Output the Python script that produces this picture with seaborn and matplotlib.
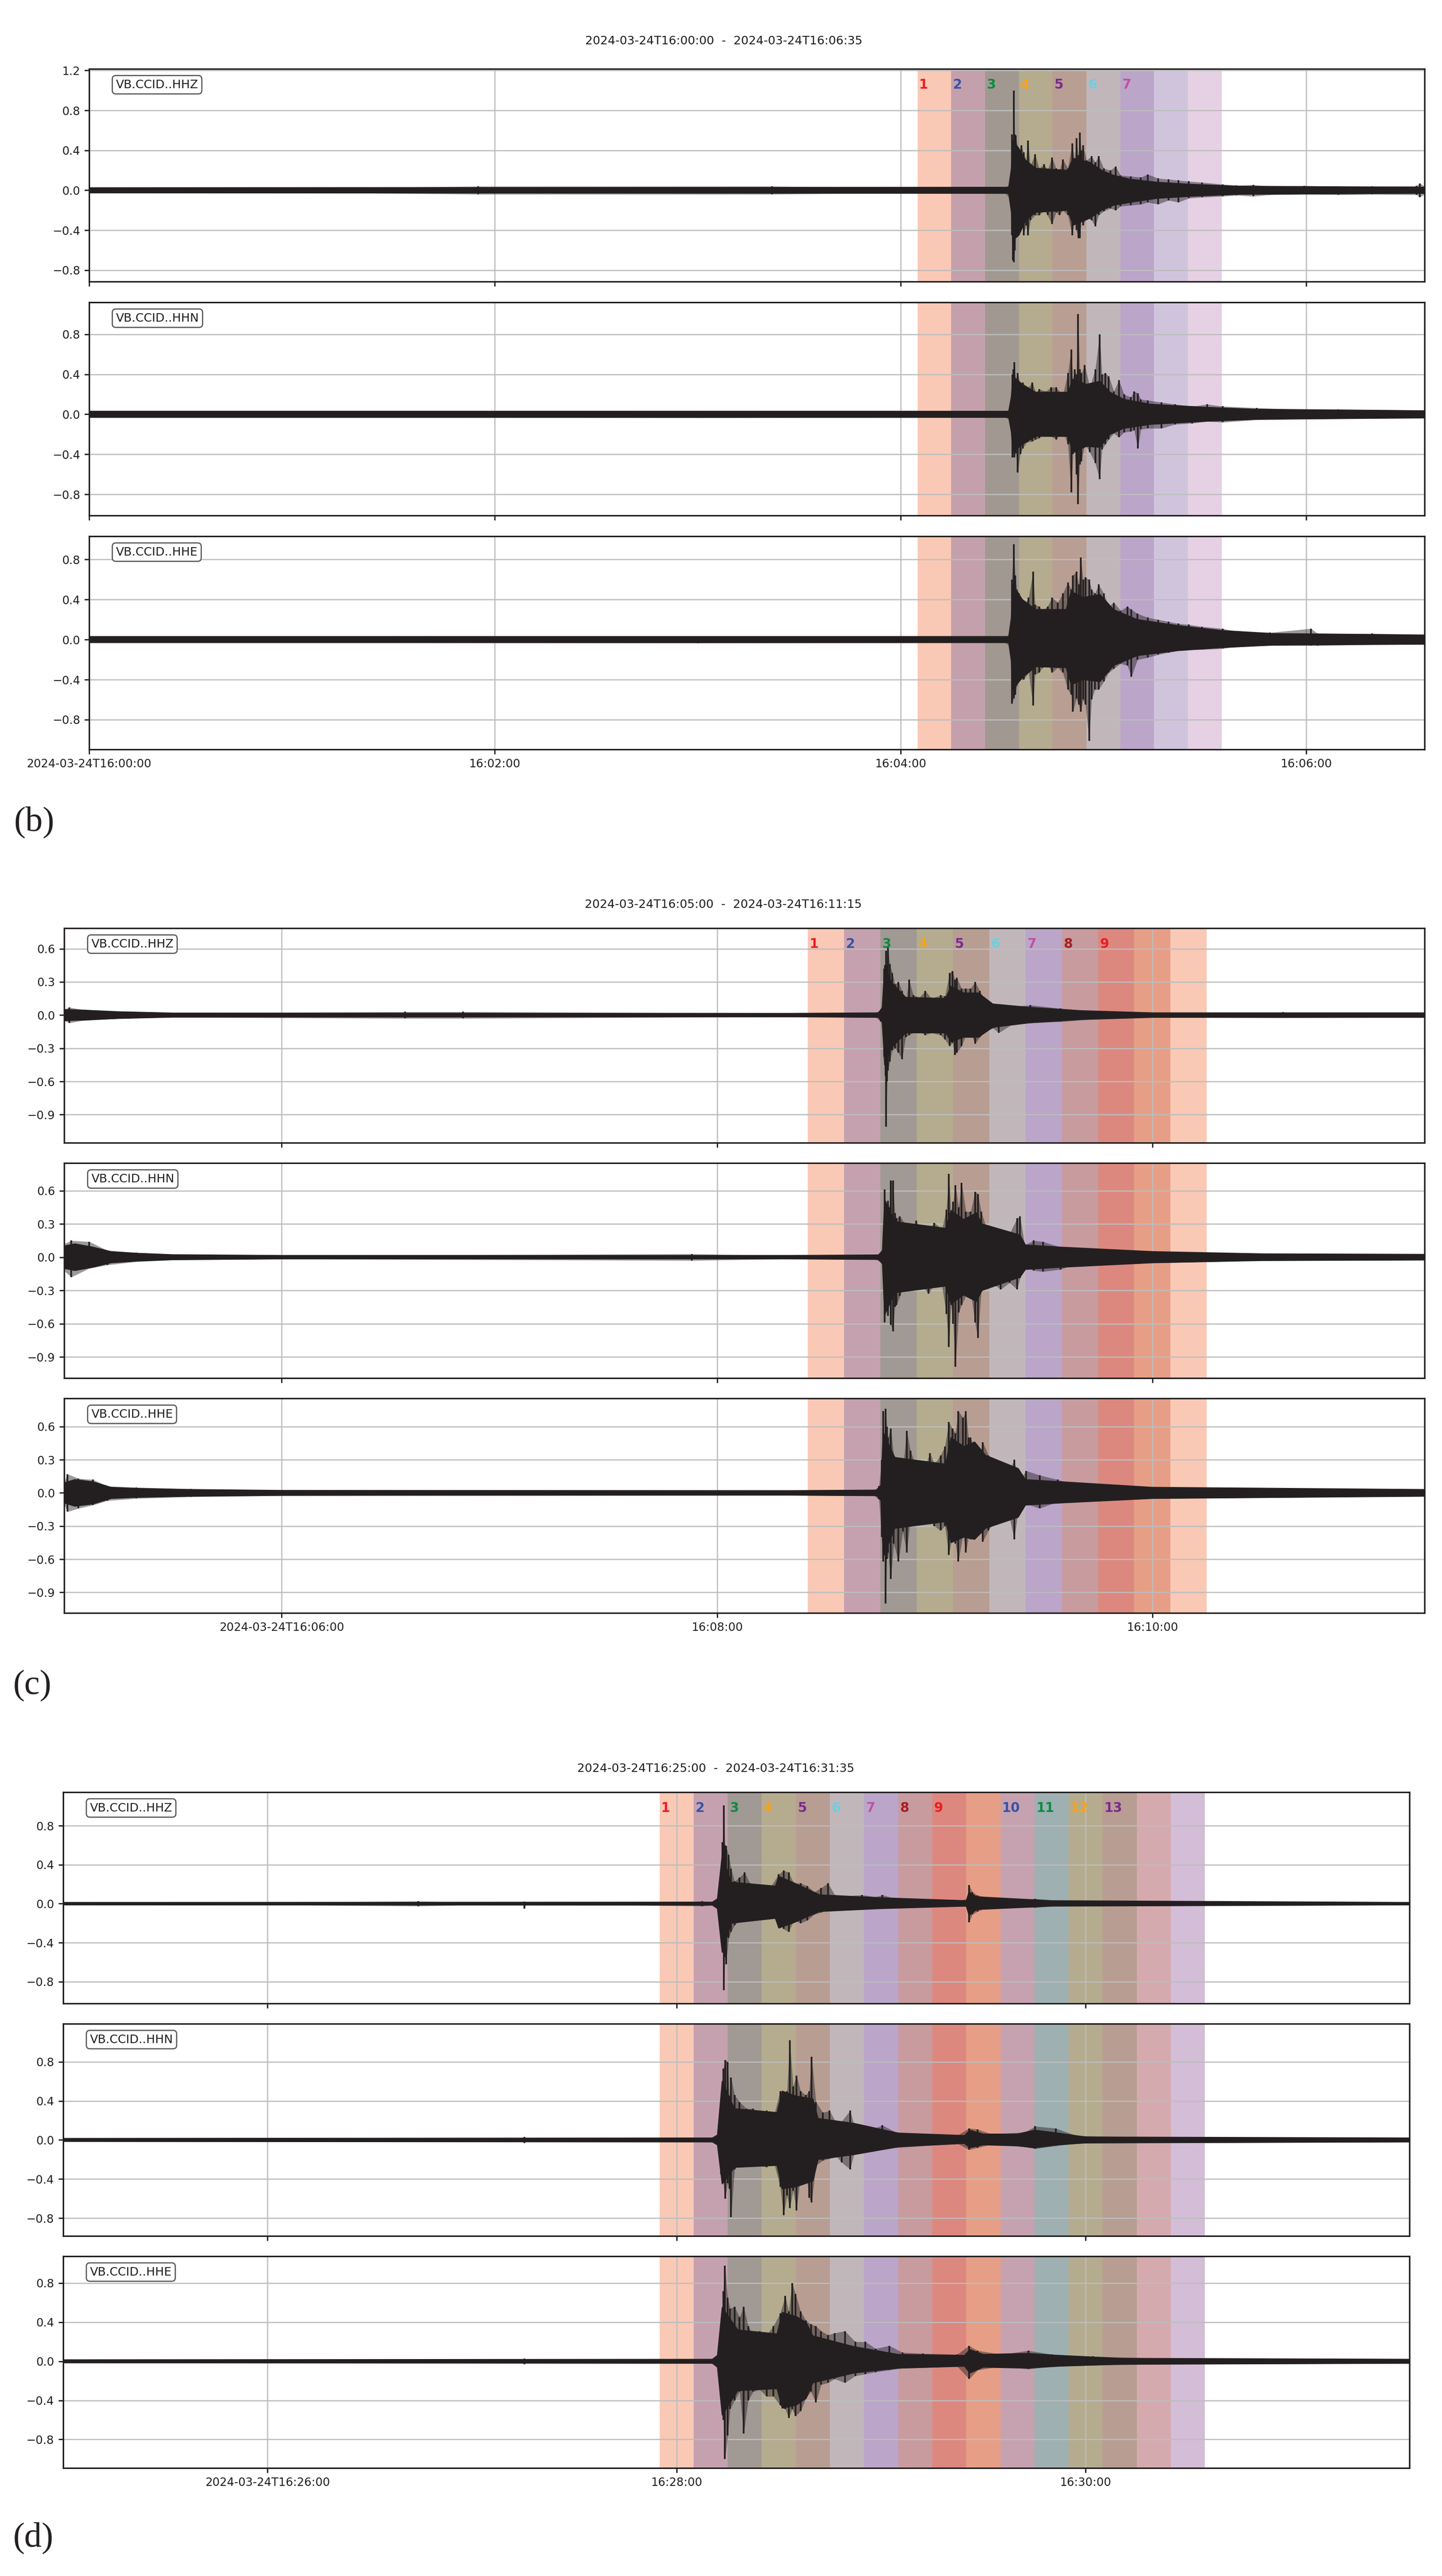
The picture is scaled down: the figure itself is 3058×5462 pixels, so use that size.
import matplotlib
matplotlib.use("Agg")
import matplotlib.pyplot as plt
import seaborn as sns

sns.set_theme(style="ticks")
plt.rcParams["font.family"] = ["DejaVu Sans"]
plt.rcParams["axes.unicode_minus"] = True

TRACE = "#231f20"
GRID = "#bdbdbd"

# Each trace: peak envelope (t, hi, lo), drawn as spikes,
# plus a dense "core" envelope drawn as a filled band. Times are seconds from panel start.

# ---------------- panel (b): 16:00:00 - 16:06:35 ----------------
B_TITLE = "2024-03-24T16:00:00  -  2024-03-24T16:06:35"
B_DUR = 395
B_XTICKS = [0, 120, 240, 360]
B_XLABELS = ["2024-03-24T16:00:00", "16:02:00", "16:04:00", "16:06:00"]
B_YLIM = [(-0.914, 1.216), (-1.011, 1.119), (-1.097, 1.032)]
B_YTICKS = [[-0.8, -0.4, 0.0, 0.4, 0.8, 1.2], [-0.8, -0.4, 0.0, 0.4, 0.8], [-0.8, -0.4, 0.0, 0.4, 0.8]]
B_BAND_START = [245, 255, 265, 275, 285, 295, 305, 315, 325]
B_BAND_COLORS = ["#f9c9b5", "#c4a0ad", "#a19991", "#b5ab8f", "#b89e93", "#c1b7ba", "#bba5c9", "#d0c4dd", "#e6d0e4"]
B_LABELS = ["1", "2", "3", "4", "5", "6", "7"]
B_LABEL_BANDS = [0, 1, 2, 3, 4, 5, 6]

b_z_t = [0, 60, 115, 202, 240, 265, 270.9, 272.4, 272.9, 273.3, 273.5, 273.8, 274.1, 274.9, 275.7, 276.4,
         277.1, 277.7, 278.4, 279.8, 281.0, 282.5, 283.5, 284.8, 286.0, 287.0, 288.0, 289.5, 290.8, 291.5,
         292.0, 292.6, 293.0, 293.5, 294.0, 295.0, 296.5, 297.6, 298.6, 300.1, 302.1, 303.6, 305.1, 308.1,
         311.1, 313.1, 316.2, 319.2, 322.2, 325.2, 329.2, 335.3, 339.3, 344.3, 349.3, 359.4, 369.5, 379.5,
         392.6, 393.6, 395]
b_z_hi = [0.025, 0.02, 0.04, 0.04, 0.025, 0.03, 0.03, 0.06, 0.56, 0.45, 1.00, 0.56, 0.55, 0.35, 0.45, 0.38,
          0.30, 0.50, 0.25, 0.36, 0.22, 0.26, 0.20, 0.33, 0.22, 0.20, 0.31, 0.22, 0.47, 0.30,
          0.52, 0.35, 0.58, 0.40, 0.45, 0.30, 0.34, 0.28, 0.34, 0.22, 0.20, 0.24, 0.15, 0.14,
          0.13, 0.16, 0.12, 0.11, 0.10, 0.09, 0.08, 0.06, 0.05, 0.055, 0.04, 0.045, 0.04, 0.04,
          0.045, 0.07, 0.04]
b_z_lo = [-0.025, -0.02, -0.04, -0.04, -0.025, -0.03, -0.03, -0.08, -0.45, -0.70, -0.72, -0.60, -0.45, -0.45, -0.30, -0.45,
          -0.35, -0.45, -0.30, -0.25, -0.25, -0.20, -0.25, -0.34, -0.22, -0.25, -0.20, -0.25, -0.45, -0.30,
          -0.40, -0.48, -0.48, -0.30, -0.35, -0.27, -0.30, -0.36, -0.25, -0.21, -0.18, -0.20, -0.16, -0.15,
          -0.14, -0.12, -0.14, -0.10, -0.12, -0.08, -0.07, -0.06, -0.05, -0.06, -0.045, -0.04, -0.045, -0.04,
          -0.045, -0.07, -0.04]
b_z_core_t = [0, 272.0, 272.8, 273.2, 275.0, 277.0, 280.0, 289.5, 291.0, 296.0, 299.5, 303.0, 308.0, 316.0, 326.0, 340.0, 395]
b_z_core_hi = [0.025, 0.03, 0.22, 0.50, 0.42, 0.30, 0.22, 0.20, 0.32, 0.28, 0.20, 0.15, 0.11, 0.08, 0.06, 0.04, 0.03]
b_z_core_lo = [-0.025, -0.03, -0.22, -0.50, -0.45, -0.30, -0.22, -0.20, -0.35, -0.28, -0.20, -0.15, -0.12, -0.08, -0.06, -0.04, -0.03]

b_n_t = [0, 90, 180, 265, 270.9, 272.4, 273.1, 273.4, 273.7, 274.1, 274.7, 275.4, 276.1, 277.4,
         279.0, 280.0, 281.0, 283.0, 284.5, 286.0, 288.0, 289.5, 290.5, 291.0,
         291.5, 292.0, 292.5, 293.0, 293.5, 294.5, 296.0, 297.6, 298.9, 299.6,
         300.6, 301.6, 303.1, 304.6, 306.1, 308.1, 309.1, 310.2, 311.1, 313.1,
         317.2, 321.2, 326.2, 330.7, 335.3, 345.3, 359.4, 369.5, 395]
b_n_hi = [0.03, 0.03, 0.035, 0.03, 0.03, 0.05, 0.40, 0.45, 0.52, 0.35, 0.41, 0.30, 0.32, 0.25,
          0.32, 0.22, 0.25, 0.23, 0.27, 0.27, 0.19, 0.41, 0.65, 0.35,
          0.45, 0.40, 1.00, 0.45, 0.41, 0.49, 0.27, 0.45, 0.80, 0.40,
          0.41, 0.38, 0.23, 0.34, 0.20, 0.17, 0.23, 0.21, 0.15, 0.14,
          0.12, 0.10, 0.08, 0.10, 0.08, 0.065, 0.045, 0.05, 0.04]
b_n_lo = [-0.03, -0.03, -0.035, -0.03, -0.03, -0.06, -0.43, -0.35, -0.43, -0.39, -0.58, -0.40, -0.34, -0.28,
          -0.27, -0.25, -0.24, -0.17, -0.22, -0.25, -0.17, -0.30, -0.78, -0.40,
          -0.38, -0.60, -0.90, -0.50, -0.47, -0.30, -0.38, -0.49, -0.65, -0.35,
          -0.30, -0.25, -0.19, -0.23, -0.18, -0.17, -0.16, -0.34, -0.15, -0.14,
          -0.14, -0.10, -0.09, -0.07, -0.08, -0.055, -0.045, -0.04, -0.04]
b_n_core_t = [0, 272.0, 272.8, 273.2, 276.0, 280.0, 289.5, 291.0, 295.0, 299.0, 302.0, 306.0, 314.0, 330.0, 345.0, 395]
b_n_core_hi = [0.03, 0.03, 0.18, 0.38, 0.30, 0.22, 0.22, 0.35, 0.30, 0.33, 0.22, 0.15, 0.10, 0.07, 0.05, 0.035]
b_n_core_lo = [-0.03, -0.03, -0.18, -0.38, -0.30, -0.22, -0.22, -0.38, -0.32, -0.33, -0.20, -0.14, -0.10, -0.07, -0.05, -0.035]

b_e_t = [0, 90, 180, 265, 270.9, 272.4, 272.9, 273.5, 273.9, 274.4, 275.1, 276.4, 277.9, 279.2,
         279.8, 281.0, 282.0, 283.5, 284.8, 286.5, 288.0, 289.5, 290.5, 291.0,
         292.0, 292.7, 293.3, 294.0, 294.7, 295.8, 296.5, 297.5, 298.6, 300.1,
         301.6, 303.1, 305.1, 307.1, 308.3, 310.1, 313.1, 316.2, 319.2, 322.2,
         325.2, 329.2, 335.3, 339.3, 349.3, 361.4, 363.4, 379.5, 395]
b_e_hi = [0.03, 0.03, 0.035, 0.03, 0.03, 0.05, 0.60, 0.95, 0.64, 0.50, 0.46, 0.33, 0.42, 0.68,
          0.35, 0.33, 0.29, 0.33, 0.42, 0.37, 0.46, 0.57, 0.50, 0.64,
          0.68, 0.55, 0.82, 0.60, 0.62, 0.60, 0.50, 0.46, 0.55, 0.46,
          0.33, 0.37, 0.29, 0.33, 0.30, 0.26, 0.22, 0.20, 0.18, 0.16,
          0.15, 0.13, 0.11, 0.08, 0.07, 0.11, 0.06, 0.06, 0.05]
b_e_lo = [-0.03, -0.03, -0.035, -0.03, -0.03, -0.07, -0.64, -0.59, -0.55, -0.46, -0.40, -0.40, -0.33, -0.66,
          -0.35, -0.33, -0.28, -0.24, -0.33, -0.28, -0.33, -0.50, -0.55, -0.72,
          -0.59, -0.65, -0.72, -0.60, -0.65, -1.01, -0.60, -0.50, -0.50, -0.42,
          -0.33, -0.29, -0.24, -0.26, -0.37, -0.20, -0.18, -0.15, -0.13, -0.11,
          -0.10, -0.10, -0.09, -0.07, -0.06, -0.06, -0.06, -0.05, -0.05]
b_e_core_t = [0, 272.0, 272.8, 273.2, 276.0, 280.0, 289.0, 290.5, 294.0, 299.0, 303.0, 310.0, 322.0, 335.0, 350.0, 395]
b_e_core_hi = [0.03, 0.03, 0.22, 0.55, 0.40, 0.30, 0.30, 0.48, 0.42, 0.45, 0.30, 0.20, 0.14, 0.09, 0.06, 0.045]
b_e_core_lo = [-0.03, -0.03, -0.22, -0.50, -0.38, -0.27, -0.28, -0.45, -0.40, -0.42, -0.26, -0.16, -0.11, -0.08, -0.055, -0.045]

# ---------------- panel (c): 16:05:00 - 16:11:15 ----------------
C_TITLE = "2024-03-24T16:05:00  -  2024-03-24T16:11:15"
C_DUR = 375
C_XTICKS = [60, 180, 300]
C_XLABELS = ["2024-03-24T16:06:00", "16:08:00", "16:10:00"]
C_YLIM = [(-1.154, 0.786), (-1.09, 0.849), (-1.086, 0.855)]
C_YTICKS = [[-0.9, -0.6, -0.3, 0.0, 0.3, 0.6]] * 3
C_BAND_START = [205, 215, 225, 235, 245, 255, 265, 275, 285, 295, 305]
C_BAND_COLORS = ["#f9c9b5", "#c5a1b0", "#a19993", "#b5ab8f", "#b89d93", "#c1b7ba", "#bba5c9", "#c89b9f",
                 "#dc887f", "#e69f86", "#f9c9b5"]
C_LABELS = ["1", "2", "3", "4", "5", "6", "7", "8", "9"]
C_LABEL_BANDS = [0, 1, 2, 3, 4, 5, 6, 7, 8]

c_z_t = [0, 1.5, 5, 15, 30, 94, 110, 200, 223.7, 225.2, 226.0, 226.4, 226.6, 226.9, 227.1, 227.6, 228.3, 229.1,
         230.0, 231.0, 232.0, 232.9, 234.1, 235.8, 237.4, 239.1, 241.6, 242.8,
         244.1, 244.9, 245.5, 246.1, 247.4, 248.6, 249.9, 251.1, 252.4, 254.0,
         256.1, 257.7, 261.5, 266.4, 274.7, 282.2, 286.3, 300, 336, 375]
c_z_hi = [0.05, 0.07, 0.05, 0.03, 0.02, 0.03, 0.03, 0.015, 0.02, 0.05, 0.42, 0.30, 0.58, 0.45, 0.62, 0.46, 0.38, 0.28,
          0.30, 0.22, 0.12, 0.32, 0.18, 0.16, 0.22, 0.15, 0.18, 0.17,
          0.38, 0.40, 0.32, 0.34, 0.24, 0.24, 0.24, 0.30, 0.22, 0.12,
          0.10, 0.10, 0.08, 0.09, 0.06, 0.04, 0.03, 0.02, 0.025, 0.02]
c_z_lo = [-0.05, -0.07, -0.05, -0.03, -0.02, -0.03, -0.03, -0.015, -0.02, -0.06, -0.38, -0.55, -1.01, -0.60, -0.50, -0.42, -0.32, -0.30,
          -0.34, -0.40, -0.20, -0.18, -0.16, -0.15, -0.18, -0.16, -0.18, -0.22,
          -0.28, -0.25, -0.36, -0.34, -0.28, -0.18, -0.16, -0.26, -0.20, -0.14,
          -0.12, -0.16, -0.08, -0.07, -0.06, -0.04, -0.03, -0.02, -0.025, -0.02]
c_z_core_t = [0, 5, 15, 30, 200, 224.5, 225.6, 226.2, 228.0, 232.0, 243.0, 244.5, 248.0, 252.0, 256.0, 266.0, 280.0, 300.0, 375]
c_z_core_hi = [0.05, 0.045, 0.03, 0.018, 0.015, 0.02, 0.07, 0.45, 0.30, 0.16, 0.15, 0.26, 0.20, 0.20, 0.10, 0.07, 0.04, 0.02, 0.02]
c_z_core_lo = [-0.05, -0.045, -0.03, -0.018, -0.015, -0.02, -0.07, -0.45, -0.30, -0.16, -0.16, -0.24, -0.20, -0.20, -0.11, -0.07, -0.04, -0.02, -0.02]

c_n_t = [0, 2, 7, 12, 20, 30, 60, 173, 200,
         223.7, 225.4, 226.0, 226.2, 226.6, 227.1, 227.5, 227.9, 228.5, 229.0,
         229.5, 230.4, 231.6, 233.3, 234.9, 236.2, 238.3, 239.9, 242.0, 243.2,
         243.9, 244.5, 245.1, 245.7, 246.6, 247.4, 248.6, 249.9, 251.1, 251.9,
         252.8, 254.0, 255.7, 258.2, 260.6, 262.7, 263.5, 264.8, 267.3, 269.8,
         274.7, 278.1, 282.2, 294.6, 302.9, 315.4, 323.7, 375]
c_n_hi = [0.12, 0.15, 0.14, 0.06, 0.04, 0.025, 0.015, 0.03, 0.015,
          0.02, 0.04, 0.30, 0.61, 0.40, 0.51, 0.45, 0.69, 0.69, 0.40,
          0.35, 0.37, 0.31, 0.25, 0.33, 0.21, 0.25, 0.31, 0.25, 0.43,
          0.75, 0.41, 0.50, 0.65, 0.45, 0.67, 0.41, 0.41, 0.59, 0.57,
          0.41, 0.29, 0.25, 0.21, 0.21, 0.35, 0.37, 0.11, 0.15, 0.14,
          0.09, 0.08, 0.07, 0.05, 0.05, 0.04, 0.03, 0.025]
c_n_lo = [-0.12, -0.18, -0.10, -0.07, -0.04, -0.025, -0.015, -0.03, -0.015,
          -0.02, -0.05, -0.30, -0.59, -0.45, -0.53, -0.40, -0.61, -0.67, -0.45,
          -0.43, -0.35, -0.25, -0.27, -0.24, -0.24, -0.33, -0.24, -0.26, -0.51,
          -0.81, -0.43, -0.60, -0.99, -0.50, -0.43, -0.35, -0.31, -0.59, -0.73,
          -0.31, -0.27, -0.23, -0.29, -0.23, -0.29, -0.19, -0.09, -0.12, -0.13,
          -0.11, -0.07, -0.07, -0.05, -0.05, -0.04, -0.03, -0.025]
c_n_core_t = [0, 3, 8, 13, 20, 30, 60, 200, 224.5, 225.6, 226.2, 229.0, 243.0, 244.5, 248.0, 251.5, 253.0, 263.5, 265.0, 275.0, 300.0, 330.0, 375]
c_n_core_hi = [0.10, 0.12, 0.09, 0.05, 0.035, 0.022, 0.015, 0.015, 0.02, 0.06, 0.52, 0.32, 0.26, 0.42, 0.34, 0.40, 0.30, 0.20, 0.11, 0.09, 0.05, 0.03, 0.025]
c_n_core_lo = [-0.10, -0.12, -0.09, -0.05, -0.035, -0.022, -0.015, -0.015, -0.02, -0.06, -0.52, -0.32, -0.26, -0.42, -0.34, -0.40, -0.30, -0.18, -0.11, -0.09, -0.05, -0.03, -0.025]

c_e_t = [0, 1, 4, 8, 12, 20, 35, 60, 100, 190,
         223.3, 224.6, 225.4, 225.8, 226.2, 226.5, 226.8, 227.1, 227.9, 228.7,
         230.0, 231.2, 232.3, 233.3, 234.9, 236.6, 238.7, 239.9, 241.6, 242.8,
         243.9, 244.9, 245.7, 246.5, 247.8, 248.6, 249.3, 249.9, 251.1, 252.4,
         253.2, 254.8, 256.5, 258.2, 260.6, 261.9, 263.1, 265.2, 268.9, 273.9,
         278.1, 286.3, 294.6, 315.4, 375]
c_e_hi = [0.10, 0.17, 0.13, 0.12, 0.06, 0.05, 0.035, 0.025, 0.02, 0.02,
          0.025, 0.06, 0.30, 0.74, 0.40, 0.76, 0.60, 0.50, 0.58, 0.34,
          0.30, 0.22, 0.56, 0.38, 0.24, 0.18, 0.36, 0.26, 0.34, 0.42,
          0.64, 0.58, 0.54, 0.74, 0.68, 0.74, 0.50, 0.50, 0.38, 0.34,
          0.46, 0.34, 0.22, 0.18, 0.20, 0.30, 0.10, 0.20, 0.16, 0.12,
          0.08, 0.07, 0.055, 0.04, 0.03]
c_e_lo = [-0.10, -0.17, -0.14, -0.11, -0.07, -0.05, -0.035, -0.025, -0.02, -0.02,
          -0.025, -0.06, -0.40, -0.62, -0.50, -1.00, -0.60, -0.54, -0.78, -0.46,
          -0.62, -0.35, -0.54, -0.22, -0.26, -0.18, -0.18, -0.30, -0.34, -0.30,
          -0.56, -0.38, -0.46, -0.62, -0.38, -0.54, -0.40, -0.42, -0.34, -0.26,
          -0.44, -0.34, -0.26, -0.18, -0.22, -0.42, -0.14, -0.10, -0.14, -0.08,
          -0.06, -0.06, -0.05, -0.04, -0.03]
c_e_core_t = [0, 3, 8, 13, 20, 35, 60, 200, 224.0, 225.2, 225.8, 229.0, 243.0, 244.5, 248.0, 251.0, 254.0, 263.0, 265.0, 275.0, 300.0, 375]
c_e_core_hi = [0.09, 0.12, 0.10, 0.05, 0.04, 0.03, 0.022, 0.02, 0.025, 0.07, 0.55, 0.32, 0.26, 0.50, 0.42, 0.46, 0.34, 0.22, 0.12, 0.10, 0.05, 0.03]
c_e_core_lo = [-0.09, -0.12, -0.10, -0.05, -0.04, -0.03, -0.022, -0.02, -0.025, -0.07, -0.58, -0.32, -0.26, -0.45, -0.40, -0.42, -0.32, -0.22, -0.11, -0.09, -0.05, -0.03]

# ---------------- panel (d): 16:25:00 - 16:31:35 ----------------
D_TITLE = "2024-03-24T16:25:00  -  2024-03-24T16:31:35"
D_DUR = 395
D_XTICKS = [60, 180, 300]
D_XLABELS = ["2024-03-24T16:26:00", "16:28:00", "16:30:00"]
D_YLIM = [(-1.024, 1.144), (-0.983, 1.19), (-1.092, 1.075)]
D_YTICKS = [[-0.8, -0.4, 0.0, 0.4, 0.8]] * 3
D_BAND_START = [175, 185, 195, 205, 215, 225, 235, 245, 255, 265, 275, 285, 295, 305, 315, 325]
D_BAND_COLORS = ["#f9c9b5", "#c5a1b0", "#a19993", "#b5ab8f", "#b89d93", "#c1b7ba", "#bba5c9", "#c89b9f",
                 "#dc887f", "#e69f86", "#c6a2b0", "#9eb0b2", "#b5ab8f", "#b89d93", "#d5aaae", "#d3bdd7"]
D_LABELS = ["1", "2", "3", "4", "5", "6", "7", "8", "9", "10", "11", "12", "13"]
D_LABEL_BANDS = [0, 1, 2, 3, 4, 5, 6, 7, 8, 10, 11, 12, 13]

d_z_t = [0, 60, 104.3, 120, 135.0, 135.4, 135.8, 160, 187.5,
         190.5, 192.0, 193.0, 193.5, 193.9, 194.2, 194.5, 195.3, 196.0, 197.0,
         198.5, 200.0, 201.5, 203.5, 205.4, 207.4, 209.9, 211.4, 212.9, 214.4,
         216.4, 218.4, 220.4, 222.4, 224.4, 226.4, 230.4, 234.4, 238.4, 240.4,
         244.3, 252.3, 262.3, 265.3, 265.8, 266.8, 268.3, 270.3, 275.3, 285.2,
         292.2, 395]
d_z_hi = [0.012, 0.012, 0.025, 0.012, 0.012, 0.02, 0.012, 0.012, 0.025,
          0.015, 0.04, 0.21, 0.63, 1.01, 0.60, 0.59, 0.50, 0.36, 0.23,
          0.27, 0.32, 0.21, 0.16, 0.16, 0.16, 0.30, 0.34, 0.32, 0.21,
          0.21, 0.18, 0.12, 0.16, 0.21, 0.09, 0.08, 0.09, 0.07, 0.09,
          0.05, 0.05, 0.03, 0.05, 0.19, 0.12, 0.085, 0.07, 0.04, 0.05,
          0.03, 0.015]
d_z_lo = [-0.012, -0.012, -0.025, -0.012, -0.012, -0.05, -0.012, -0.012, -0.025,
          -0.015, -0.05, -0.17, -0.40, -0.89, -0.55, -0.62, -0.35, -0.29, -0.22,
          -0.17, -0.15, -0.13, -0.11, -0.15, -0.11, -0.17, -0.26, -0.29, -0.17,
          -0.20, -0.17, -0.11, -0.09, -0.06, -0.06, -0.05, -0.05, -0.05, -0.04,
          -0.03, -0.03, -0.02, -0.02, -0.19, -0.11, -0.08, -0.05, -0.03, -0.04,
          -0.02, -0.015]
d_z_core_t = [0, 190.5, 192.0, 193.4, 196.0, 209.0, 210.0, 214.0, 222.0, 240.0, 265.0, 265.8, 268.0, 290.0, 395]
d_z_core_hi = [0.012, 0.015, 0.05, 0.50, 0.22, 0.18, 0.28, 0.22, 0.09, 0.06, 0.03, 0.12, 0.07, 0.03, 0.012]
d_z_core_lo = [-0.012, -0.015, -0.05, -0.50, -0.20, -0.15, -0.25, -0.20, -0.08, -0.05, -0.025, -0.12, -0.06, -0.025, -0.012]

d_n_t = [0, 60, 120, 135.0, 135.4, 135.8, 160,
         190.5, 192.0, 193.0, 193.7, 194.3, 195.0, 195.5, 196.0, 197.0, 198.5,
         200.5, 202.5, 204.4, 206.4, 208.4, 210.4, 211.4, 212.4, 213.2, 214.2,
         215.2, 216.4, 217.9, 218.9, 219.6, 220.9, 222.9, 224.9, 226.9, 228.4,
         230.9, 232.4, 236.4, 240.4, 244.3, 252.3, 262.3, 265.8, 268.3, 272.3,
         282.2, 285.2, 291.2, 297.2, 312.2, 395]
d_n_hi = [0.015, 0.015, 0.015, 0.015, 0.03, 0.015, 0.015,
          0.02, 0.04, 0.30, 0.73, 0.82, 0.80, 0.45, 0.64, 0.46, 0.39,
          0.32, 0.32, 0.26, 0.30, 0.23, 0.50, 0.46, 0.50, 1.02, 0.55,
          0.66, 0.50, 0.46, 0.50, 0.85, 0.39, 0.28, 0.30, 0.17, 0.19,
          0.30, 0.12, 0.10, 0.15, 0.08, 0.06, 0.045, 0.12, 0.11, 0.06,
          0.08, 0.14, 0.12, 0.045, 0.03, 0.02]
d_n_lo = [-0.015, -0.015, -0.015, -0.015, -0.03, -0.015, -0.015,
          -0.02, -0.05, -0.35, -0.44, -0.60, -0.44, -0.50, -0.79, -0.30, -0.23,
          -0.26, -0.23, -0.26, -0.28, -0.21, -0.48, -0.77, -0.57, -0.70, -0.52,
          -0.72, -0.35, -0.30, -0.59, -0.64, -0.26, -0.21, -0.19, -0.17, -0.23,
          -0.30, -0.10, -0.10, -0.10, -0.08, -0.06, -0.035, -0.10, -0.08, -0.045,
          -0.07, -0.09, -0.06, -0.035, -0.03, -0.02]
d_n_core_t = [0, 190.5, 192.0, 193.4, 197.0, 209.5, 211.0, 215.0, 220.0, 221.5, 232.0, 245.0, 264.5, 266.0, 270.0, 280.0, 285.0, 292.0, 300.0, 395]
d_n_core_hi = [0.015, 0.02, 0.05, 0.60, 0.32, 0.28, 0.50, 0.45, 0.42, 0.22, 0.17, 0.07, 0.045, 0.10, 0.06, 0.06, 0.10, 0.07, 0.03, 0.02]
d_n_core_lo = [-0.015, -0.02, -0.05, -0.45, -0.28, -0.26, -0.50, -0.48, -0.42, -0.20, -0.15, -0.07, -0.035, -0.08, -0.05, -0.06, -0.08, -0.05, -0.03, -0.02]

d_e_t = [0, 60, 120, 135.0, 135.4, 135.8, 160,
         190.5, 192.0, 193.0, 193.7, 194.2, 195.0, 195.7, 197.0, 198.5, 199.7,
         201.0, 202.5, 204.4, 206.4, 208.4, 210.4, 211.9, 212.9, 213.9, 214.9,
         216.4, 217.9, 219.4, 220.9, 222.4, 224.4, 226.4, 229.4, 232.4, 235.4,
         238.4, 242.4, 246.3, 252.3, 262.3, 265.8, 268.3, 275.3, 283.2, 290.2,
         302.2, 322.1, 395]
d_e_hi = [0.015, 0.015, 0.015, 0.015, 0.03, 0.015, 0.015,
          0.02, 0.05, 0.27, 0.72, 0.98, 0.65, 0.54, 0.56, 0.45, 0.56,
          0.36, 0.27, 0.31, 0.27, 0.36, 0.49, 0.67, 0.51, 0.80, 0.69,
          0.51, 0.42, 0.38, 0.36, 0.31, 0.27, 0.29, 0.31, 0.20, 0.20,
          0.13, 0.16, 0.09, 0.08, 0.07, 0.16, 0.11, 0.07, 0.11, 0.07,
          0.05, 0.03, 0.02]
d_e_lo = [-0.015, -0.015, -0.015, -0.015, -0.03, -0.015, -0.015,
          -0.02, -0.05, -0.31, -0.60, -1.00, -0.76, -0.49, -0.40, -0.31, -0.74,
          -0.40, -0.31, -0.29, -0.36, -0.36, -0.45, -0.49, -0.58, -0.49, -0.56,
          -0.51, -0.38, -0.31, -0.42, -0.24, -0.22, -0.18, -0.22, -0.15, -0.13,
          -0.11, -0.09, -0.07, -0.065, -0.05, -0.18, -0.09, -0.05, -0.08, -0.05,
          -0.04, -0.03, -0.02]
d_e_core_t = [0, 190.5, 192.0, 193.4, 198.0, 209.5, 211.0, 215.0, 218.0, 220.0, 232.0, 245.0, 264.5, 266.0, 270.0, 283.0, 292.0, 310.0, 395]
d_e_core_hi = [0.015, 0.02, 0.06, 0.55, 0.32, 0.28, 0.50, 0.46, 0.40, 0.26, 0.15, 0.07, 0.06, 0.12, 0.07, 0.08, 0.06, 0.03, 0.02]
d_e_core_lo = [-0.015, -0.02, -0.06, -0.55, -0.30, -0.28, -0.48, -0.45, -0.38, -0.22, -0.12, -0.07, -0.05, -0.12, -0.06, -0.07, -0.05, -0.03, -0.02]

CHANNELS = ["VB.CCID..HHZ", "VB.CCID..HHN", "VB.CCID..HHE"]
LABEL_COLORS = ["#ee1c25", "#3953a4", "#0e8a45", "#f8a21c", "#7b2b8b", "#6dcfe0", "#c251a1", "#a71e22"]

# ---------------- figure ----------------
W, H = 3058, 5462
fig = plt.figure(figsize=(W / 100, H / 100), dpi=100)


def add_axes_px(left, right, top, bottom):
    return fig.add_axes([left / W, 1 - bottom / H, (right - left) / W, (bottom - top) / H])


def draw_panel(rows, left, right, dur, xticks, xlabels, ylims, yticks, band_start, band_colors,
               labels, label_bands, traces, title, title_xy, letter, letter_xy):
    for i, (top, bottom) in enumerate(rows):
        ax = add_axes_px(left, right, top, bottom)
        t, hi, lo, ct, chi, clo = traces[i]
        for s, c in zip(band_start, band_colors):
            ax.axvspan(s, s + 10, color=c, lw=0, zorder=1)
        # outer envelope, lightly shaded so the spikes read as a dense mass
        ax.fill_between(t, lo, hi, color=TRACE, alpha=0.45, lw=0, zorder=2.4)
        # dense core of the trace
        ax.fill_between(ct, clo, chi, color=TRACE, lw=0, zorder=2.5)
        sns.lineplot(x=ct, y=chi, ax=ax, color=TRACE, lw=1.5, estimator=None, sort=False, legend=False, zorder=2.6)
        sns.lineplot(x=ct, y=clo, ax=ax, color=TRACE, lw=1.5, estimator=None, sort=False, legend=False, zorder=2.6)
        # peak spikes
        ax.vlines(t, lo, hi, color=TRACE, lw=2.6, zorder=2.7)
        ax.set_xlim(0, dur)
        ax.set_ylim(*ylims[i])
        ax.set_yticks(yticks[i])
        ax.set_xticks(xticks)
        if i == len(rows) - 1:
            ax.set_xticklabels(xlabels)
        else:
            ax.set_xticklabels([])
        ax.set_xlabel("")
        ax.set_ylabel("")
        ax.set_axisbelow("line")
        ax.grid(True, color=GRID, lw=1.8)
        ax.tick_params(axis="both", direction="out", length=7.5, width=2.0, color=TRACE,
                       labelsize=17.5, labelcolor=TRACE, pad=6)
        for sp in ax.spines.values():
            sp.set_visible(True)
            sp.set_linewidth(2.3)
            sp.set_color(TRACE)
        ax.text(0.02, 0.952, CHANNELS[i], transform=ax.transAxes, ha="left", va="top", fontsize=18,
                color=TRACE, zorder=5,
                bbox=dict(boxstyle="round,pad=0.3", fc="white", ec="#555555", lw=1.8))
        if i == 0:
            for lab, bi in zip(labels, label_bands):
                col = LABEL_COLORS[(int(lab) - 1) % len(LABEL_COLORS)]
                ax.text(band_start[bi] + 0.5, 0.925, lab, transform=ax.get_xaxis_transform(),
                        ha="left", va="center", fontsize=20, fontweight="bold", color=col, zorder=3)
    fig.text(title_xy[0] / W, 1 - title_xy[1] / H, title, ha="center", va="center", fontsize=18, color=TRACE)
    fig.text(letter_xy[0] / W, 1 - letter_xy[1] / H, letter, ha="left", va="center", fontsize=53,
             family=["Liberation Serif", "DejaVu Serif"], color=TRACE)


draw_panel([(146, 597), (641, 1093), (1137, 1589)], 189, 3021, B_DUR, B_XTICKS, B_XLABELS, B_YLIM, B_YTICKS,
           B_BAND_START, B_BAND_COLORS, B_LABELS, B_LABEL_BANDS,
           [(b_z_t, b_z_hi, b_z_lo, b_z_core_t, b_z_core_hi, b_z_core_lo),
            (b_n_t, b_n_hi, b_n_lo, b_n_core_t, b_n_core_hi, b_n_core_lo),
            (b_e_t, b_e_hi, b_e_lo, b_e_core_t, b_e_core_hi, b_e_core_lo)],
           B_TITLE, (1535, 87), "(b)", (30, 1743))

draw_panel([(1968, 2423), (2466, 2922), (2965, 3420)], 135.6, 3021, C_DUR, C_XTICKS, C_XLABELS, C_YLIM, C_YTICKS,
           C_BAND_START, C_BAND_COLORS, C_LABELS, C_LABEL_BANDS,
           [(c_z_t, c_z_hi, c_z_lo, c_z_core_t, c_z_core_hi, c_z_core_lo),
            (c_n_t, c_n_hi, c_n_lo, c_n_core_t, c_n_core_hi, c_n_core_lo),
            (c_e_t, c_e_hi, c_e_lo, c_e_core_t, c_e_core_hi, c_e_core_lo)],
           C_TITLE, (1534, 1918), "(c)", (28, 3574))

draw_panel([(3800, 4248), (4291, 4741), (4784, 5233)], 133.5, 2989, D_DUR, D_XTICKS, D_XLABELS, D_YLIM, D_YTICKS,
           D_BAND_START, D_BAND_COLORS, D_LABELS, D_LABEL_BANDS,
           [(d_z_t, d_z_hi, d_z_lo, d_z_core_t, d_z_core_hi, d_z_core_lo),
            (d_n_t, d_n_hi, d_n_lo, d_n_core_t, d_n_core_hi, d_n_core_lo),
            (d_e_t, d_e_hi, d_e_lo, d_e_core_t, d_e_core_hi, d_e_core_lo)],
           D_TITLE, (1518, 3750), "(d)", (28, 5381))

fig.savefig("out.png", dpi=100, facecolor="white")
